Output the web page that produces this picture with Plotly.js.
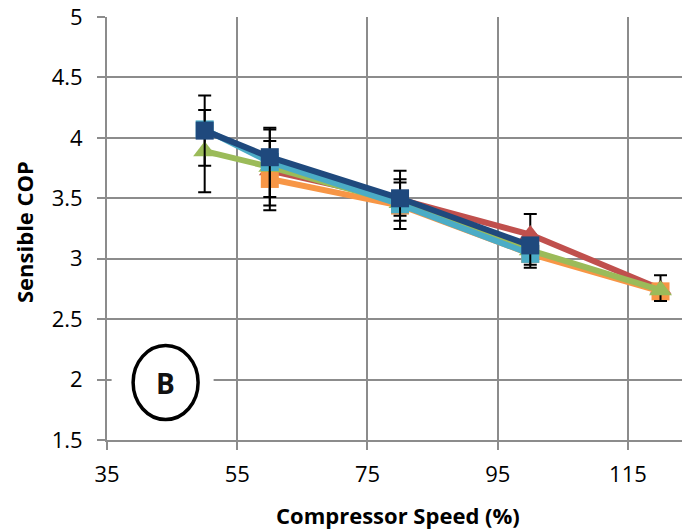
<!DOCTYPE html>
<html>
<head>
<meta charset="utf-8">
<script src="https://cdn.plot.ly/plotly-3.0.1.min.js"></script>
<style>html,body{margin:0;padding:0;background:#fff;}#chart{width:682px;height:532px;}</style>
</head>
<body>
<div id="chart"></div>
<script>
// Compressor speed (%) at each test point
const speed = [50, 60, 80, 100, 120];

// Sensible COP values per series (null = not measured)
const copDarkBlue  = [4.06, 3.84, 3.50, 3.11, null];
const copLightBlue = [4.07, 3.80, 3.45, 3.04, null];
const copGreen     = [3.89, 3.76, 3.46, 3.07, 2.74];
const copRed       = [null, 3.73, 3.49, 3.20, 2.75];
const copOrange    = [null, 3.66, 3.44, 3.04, 2.73];

// Error bar extents (upper / lower)
const errDarkBlueUp   = [0.29, 0.243, 0.228, 0, 0];
const errDarkBlueDn   = [0.29, 0.40, 0.145, 0.16, 0];
const errLightBlueUp  = [0, 0.27, 0.207, 0, 0];
const errLightBlueDn  = [0, 0.29, 0.136, 0.115, 0];
const errGreenUp      = [0.34, 0, 0, 0, 0.124];
const errGreenDn      = [0.34, 0, 0, 0, 0.09];
const errRedUp        = [0, 0, 0, 0.17, 0];
const errRedDn        = [0, 0, 0, 0, 0];
const errOrangeUp     = [0, 0.314, 0.19, 0, 0];
const errOrangeDn     = [0, 0.26, 0.195, 0, 0.05];

const xTicks = [35, 55, 75, 95, 115];
const yTicks = [1.5, 2, 2.5, 3, 3.5, 4, 4.5, 5];

function series(y, up, dn, color, symbol, size) {
  return {
    x: speed, y: y, type: 'scatter', mode: 'lines+markers',
    line: {color: color, width: 6},
    marker: {color: color, symbol: symbol, size: size},
    connectgaps: false,
    error_y: {type: 'data', symmetric: false, array: up, arrayminus: dn,
              color: '#000000', thickness: 2, width: 6.5},
    showlegend: false, hoverinfo: 'skip'
  };
}

const traces = [
  series(copRed, errRedUp, errRedDn, '#C0504D', 'triangle-up', 19),
  series(copOrange, errOrangeUp, errOrangeDn, '#F79646', 'square', 18),
  series(copGreen, errGreenUp, errGreenDn, '#9BBB59', 'triangle-up', 20),
  series(copLightBlue, errLightBlueUp, errLightBlueDn, '#4BACC6', 'square', 18),
  series(copDarkBlue, errDarkBlueUp, errDarkBlueDn, '#1F497D', 'square', 18)
];

const fontFam = '"Open Sans", "Liberation Sans", sans-serif';
const layout = {
  width: 682, height: 532,
  margin: {l: 107, r: 0, t: 17, b: 92},
  paper_bgcolor: '#ffffff', plot_bgcolor: '#ffffff',
  font: {family: fontFam, color: '#000000', size: 22},
  xaxis: {
    range: [35, 123.3], tickvals: xTicks, ticktext: xTicks.map(String),
    showgrid: true, gridcolor: '#8C8C8C', gridwidth: 2,
    showline: true, linecolor: '#8C8C8C', linewidth: 2,
    ticks: 'outside', ticklen: 8, tickcolor: '#8C8C8C', tickwidth: 2,
    zeroline: false, tickfont: {size: 22, family: fontFam},
    ticklabelstandoff: 6
  },
  yaxis: {
    range: [1.5, 5], tickvals: yTicks, ticktext: yTicks.map(String),
    showgrid: true, gridcolor: '#8C8C8C', gridwidth: 2,
    showline: true, linecolor: '#8C8C8C', linewidth: 2,
    ticks: 'outside', ticklen: 8, tickcolor: '#8C8C8C', tickwidth: 2,
    zeroline: false, tickfont: {size: 22, family: fontFam},
    ticklabelstandoff: 10
  },
  shapes: [
    {type: 'rect', layer: 'above', xref: 'x', yref: 'y', xsizemode: 'pixel', ysizemode: 'pixel',
     xanchor: 44, yanchor: 1.975, x0: -54, x1: 48, y0: -40, y1: 40,
     fillcolor: '#ffffff', line: {width: 0}},
    {type: 'circle', layer: 'above', xref: 'x', yref: 'y', xsizemode: 'pixel', ysizemode: 'pixel',
     xanchor: 44, yanchor: 1.975, x0: -32.5, x1: 32.5, y0: -37, y1: 37,
     fillcolor: '#ffffff', line: {color: '#000000', width: 3.5}}
  ],
  annotations: [
    {text: '<b>B</b>', xref: 'x', yref: 'y', x: 44, y: 1.975, showarrow: false,
     xanchor: 'center', yanchor: 'middle', font: {size: 28, family: fontFam, color: '#111111'}},
    {text: '<b>Compressor Speed (%)</b>', xref: 'paper', yref: 'paper', x: 0.5, y: 0,
     xanchor: 'center', yanchor: 'middle', xshift: 3, yshift: -75, showarrow: false,
     font: {size: 22, family: fontFam}},
    {text: '<b>Sensible COP</b>', xref: 'paper', yref: 'paper', x: 0, y: 0.5,
     xanchor: 'center', yanchor: 'middle', xshift: -83.5, yshift: -4, textangle: -90,
     showarrow: false, font: {size: 22, family: fontFam}}
  ]
};

Plotly.newPlot('chart', traces, layout, {staticPlot: true, displayModeBar: false});
</script>
</body>
</html>
